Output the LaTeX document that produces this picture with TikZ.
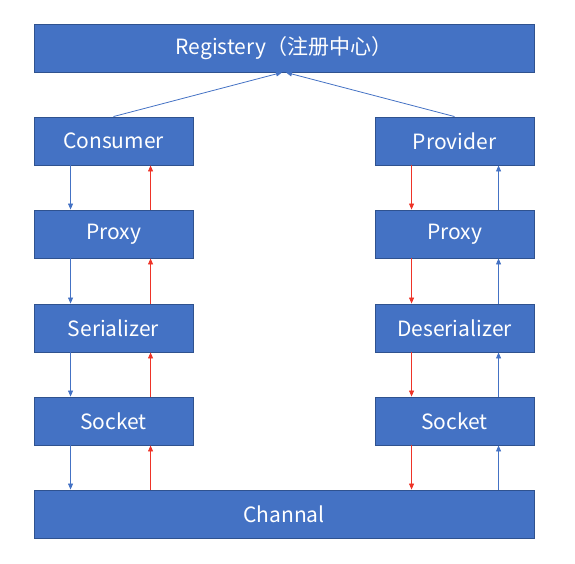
\documentclass[tikz,border=0pt]{standalone}
\usepackage{fontspec}
\setmainfont{Noto Sans CJK SC}
\usetikzlibrary{calc}
\usetikzlibrary{arrows.meta}

\definecolor{boxfill}{RGB}{68,114,196}
\definecolor{boxline}{RGB}{47,82,143}
\definecolor{redline}{RGB}{238,52,40}

\begin{document}
\begin{tikzpicture}[x=1pt,y=-1pt,
  box/.style={draw=boxline,line width=0.9pt,fill=boxfill,text=white,
    minimum height=48pt,inner sep=0pt,font=\fontsize{21}{24}\selectfont},
  narrow/.style={box,minimum width=159pt},
  wide/.style={box,minimum width=500pt},
  bluearr/.style={boxfill,line width=0.8pt,-{Triangle[length=6pt,width=5pt]}},
  redarr/.style={redline,line width=0.8pt,-{Triangle[length=6pt,width=5pt]}}]

\useasboundingbox (0,0) rectangle (575,564);

\node[wide] (reg) at (284,48) {Registery（注册中心）};
\node[narrow] (con) at (113.5,141) {Consumer};
\node[narrow] (pro) at (454.5,141) {Provider};
\node[narrow] (pxl) at (113.5,234) {Proxy};
\node[narrow] (pxr) at (454.5,234) {Proxy};
\node[narrow] (ser) at (113.5,328) {Serializer};
\node[narrow] (des) at (454.5,328) {Deserializer};
\node[narrow] (skl) at (113.5,421) {Socket};
\node[narrow] (skr) at (454.5,421) {Socket};
\node[wide] (chan) at (284,514) {Channal};

% to registery
\draw[bluearr] (con.north) -- ([xshift=-2pt]reg.south);
\draw[bluearr] (pro.north) -- ([xshift=2pt]reg.south);

% consumer side
\draw[bluearr] ([xshift=37pt]con.south west) -- ([xshift=37pt]pxl.north west);
\draw[bluearr] ([xshift=37pt]pxl.south west) -- ([xshift=37pt]ser.north west);
\draw[bluearr] ([xshift=37pt]ser.south west) -- ([xshift=37pt]skl.north west);
\draw[bluearr] ([xshift=37pt]skl.south west) -- ([xshift=37pt]chan.north west);
\draw[redarr] ([xshift=117pt]chan.north west) -- ([xshift=117pt]skl.south west);
\draw[redarr] ([xshift=117pt]skl.north west) -- ([xshift=117pt]ser.south west);
\draw[redarr] ([xshift=117pt]ser.north west) -- ([xshift=117pt]pxl.south west);
\draw[redarr] ([xshift=117pt]pxl.north west) -- ([xshift=117pt]con.south west);

% provider side
\draw[redarr] ([xshift=37pt]pro.south west) -- ([xshift=37pt]pxr.north west);
\draw[redarr] ([xshift=37pt]pxr.south west) -- ([xshift=37pt]des.north west);
\draw[redarr] ([xshift=37pt]des.south west) -- ([xshift=37pt]skr.north west);
\draw[redarr] ([xshift=37pt]skr.south west) -- ([xshift=378pt]chan.north west);
\draw[bluearr] ([xshift=465pt]chan.north west) -- ([xshift=124pt]skr.south west);
\draw[bluearr] ([xshift=124pt]skr.north west) -- ([xshift=124pt]des.south west);
\draw[bluearr] ([xshift=124pt]des.north west) -- ([xshift=124pt]pxr.south west);
\draw[bluearr] ([xshift=124pt]pxr.north west) -- ([xshift=124pt]pro.south west);

\end{tikzpicture}
\end{document}
